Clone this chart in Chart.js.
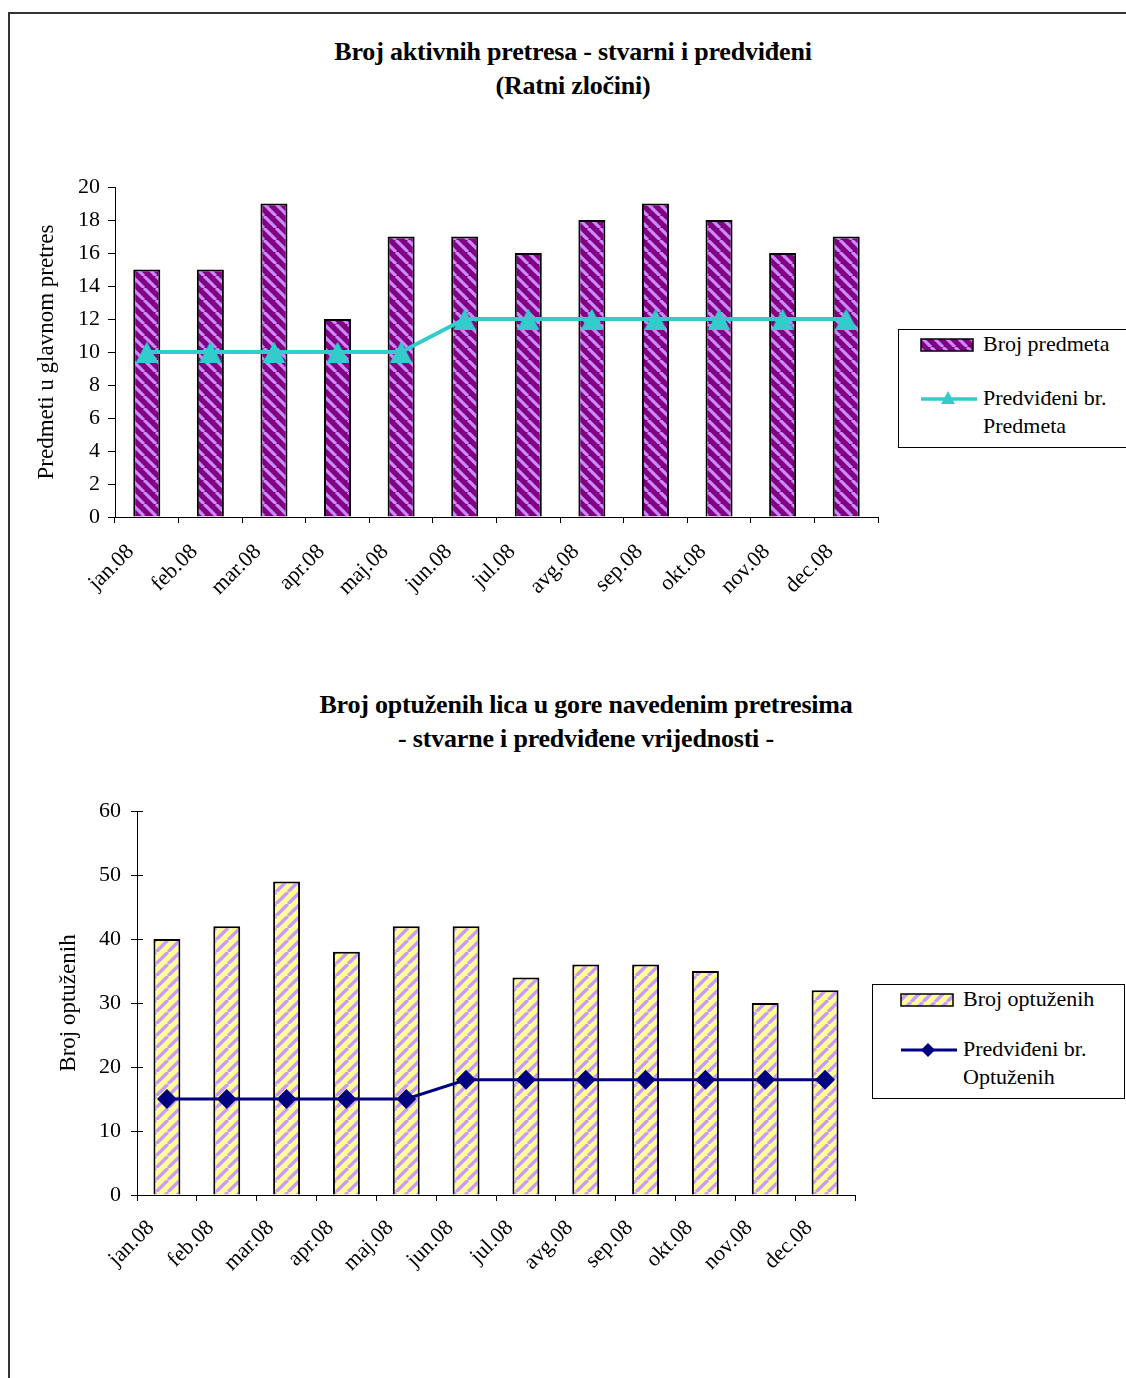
<!DOCTYPE html>
<html><head><meta charset="utf-8">
<script src="https://cdn.jsdelivr.net/npm/chart.js@4"></script>
<style>
body{margin:0;width:1126px;height:1378px;position:relative;background:#fff;overflow:hidden;font-family:"Liberation Serif","Times New Roman",serif;color:#000;}
#frame{position:absolute;left:8px;top:12px;width:1300px;height:1500px;border-left:2px solid #333;border-top:2px solid #333;}
.title{position:absolute;width:700px;text-align:center;font-weight:bold;font-size:26px;line-height:34px;letter-spacing:-0.2px;}
.legend{position:absolute;border:1px solid #000;background:#fff;}
.lt{position:absolute;font-size:22px;line-height:28px;white-space:nowrap;}
canvas.c{position:absolute;}
canvas.sw{position:absolute;}
</style></head>
<body>
<div id="frame"></div>
<div class="title" style="left:223px;top:35px;">Broj aktivnih pretresa - stvarni i predviđeni<br>(Ratni zločini)</div>
<canvas id="c1" class="c" width="900" height="617" style="left:0;top:0;"></canvas>
<div class="legend" style="left:898px;top:329px;width:300px;height:117px;">
  <canvas id="l1a" class="sw" width="60" height="20" style="left:20px;top:5px;"></canvas>
  <div class="lt" style="left:84px;top:0px;">Broj predmeta</div>
  <canvas id="l1b" class="sw" width="60" height="30" style="left:20px;top:54px;"></canvas>
  <div class="lt" style="left:84px;top:54px;">Predviđeni br.<br>Predmeta</div>
</div>
<div class="title" style="left:236px;top:688px;">Broj optuženih lica u gore navedenim pretresima<br>- stvarne i predviđene vrijednosti -</div>
<canvas id="c2" class="c" width="880" height="655" style="left:0;top:640px;"></canvas>
<div class="legend" style="left:872px;top:984px;width:251px;height:113px;">
  <canvas id="l2a" class="sw" width="60" height="20" style="left:26px;top:5px;"></canvas>
  <div class="lt" style="left:90px;top:0px;">Broj optuženih</div>
  <canvas id="l2b" class="sw" width="60" height="30" style="left:26px;top:50px;"></canvas>
  <div class="lt" style="left:90px;top:50px;">Predviđeni br.<br>Optuženih</div>
</div>
<script>
// ---- data ----
const months = ['jan.08','feb.08','mar.08','apr.08','maj.08','jun.08','jul.08','avg.08','sep.08','okt.08','nov.08','dec.08'];
const brojPredmeta = [15,15,19,12,17,17,16,18,19,18,16,17];
const predvidjeniPredmeta = [10,10,10,10,10,12,12,12,12,12,12,12];
const brojOptuzenih = [40,42,49,38,42,42,34,36,36,35,30,32];
const predvidjeniOptuzenih = [15,15,15,15,15,18,18,18,18,18,18,18];

const FONT = "'Liberation Serif','Times New Roman',serif";

function pattern(bg, fg, dir, size, lw){
  const c = document.createElement('canvas'); c.width = c.height = size;
  const x = c.getContext('2d');
  x.fillStyle = bg; x.fillRect(0,0,size,size);
  x.strokeStyle = fg; x.lineWidth = lw; x.beginPath();
  for (let k=-1;k<=1;k++){
    if (dir === '\\'){ x.moveTo(k*size,0); x.lineTo(k*size+size,size); }
    else { x.moveTo(k*size,size); x.lineTo(k*size+size,0); }
  }
  x.stroke();
  return x.createPattern(c,'repeat');
}
const pat1 = pattern('#800080','#CC88FF','\\',12,3.2);
const pat2 = pattern('#FFFF99','#CC99FF','/',12,3.4);

// centred triangle marker image
const triImg = (function(){
  const c = document.createElement('canvas'); c.width = 22; c.height = 21;
  const x = c.getContext('2d'); x.fillStyle = '#33CCCC';
  x.beginPath(); x.moveTo(11,0); x.lineTo(22,21); x.lineTo(0,21); x.closePath(); x.fill();
  return c;
})();

function swatch(id, pat){
  const x = document.getElementById(id).getContext('2d');
  x.fillStyle = pat; x.fillRect(2,4,52,12);
  x.strokeStyle = '#000'; x.lineWidth = 1.5; x.strokeRect(2,4,52,12);
}
swatch('l1a', pat1); swatch('l2a', pat2);
(function(){
  const x = document.getElementById('l1b').getContext('2d');
  x.strokeStyle = '#33CCCC'; x.lineWidth = 3.5;
  x.beginPath(); x.moveTo(2,15); x.lineTo(58,15); x.stroke();
  x.fillStyle = '#33CCCC'; x.beginPath(); x.moveTo(29,7); x.lineTo(36,20); x.lineTo(22,20); x.closePath(); x.fill();
  const y = document.getElementById('l2b').getContext('2d');
  y.strokeStyle = '#000080'; y.lineWidth = 3;
  y.beginPath(); y.moveTo(2,15); y.lineTo(58,15); y.stroke();
  y.fillStyle = '#000080'; y.beginPath(); y.moveTo(29,8); y.lineTo(36,15); y.lineTo(29,22); y.lineTo(22,15); y.closePath(); y.fill();
})();

const innerTicks = {
  id:'innerTicks',
  afterDraw(chart, args, opts){
    if (!opts.len) return;
    const s = chart.scales.y, ctx = chart.ctx;
    ctx.save(); ctx.strokeStyle = '#000'; ctx.lineWidth = 1;
    s.ticks.forEach(t=>{
      const py = Math.round(s.getPixelForValue(t.value))+0.5;
      ctx.beginPath(); ctx.moveTo(s.right, py); ctx.lineTo(s.right+opts.len, py); ctx.stroke();
    });
    ctx.restore();
  }
};

function makeChart(id, cfg){
  return new Chart(document.getElementById(id), {
    type:'bar',
    data:{labels: months, datasets:[
      {type:'line', label:cfg.lineLabel, data:cfg.lineData, borderColor:cfg.lineColor, backgroundColor:cfg.lineColor,
       borderWidth:cfg.lineWidth, pointStyle:cfg.pointStyle, pointRadius:cfg.pointRadius, pointBackgroundColor:cfg.lineColor,
       pointBorderWidth:0, tension:0, order:0},
      {type:'bar', label:cfg.barLabel, data:cfg.barData, backgroundColor:cfg.pat, borderColor:'#000', borderWidth:2,
       barPercentage:cfg.barPct, categoryPercentage:1, order:1}
    ]},
    options:{
      responsive:false, animation:false, devicePixelRatio:1,
      layout:{padding:cfg.padding},
      plugins:{legend:{display:false}, tooltip:{enabled:false}, title:{display:false}, innerTicks:{len:cfg.innerLen}},
      scales:{
        x:{
          grid:{drawOnChartArea:false, drawTicks:true, tickLength:6, color:'#000', offset:true},
          border:{display:true, color:'#000', width:1},
          ticks:{color:'#000', font:{family:FONT, size:22}, minRotation:45, maxRotation:45, autoSkip:false, padding:cfg.xPad, labelOffset:cfg.xLabelOffset},
          afterFit(s){ s.height = 100; }
        },
        y:{
          min:0, max:cfg.max,
          grid:{drawOnChartArea:false, drawTicks:true, tickLength:cfg.yTickLen, color:'#000'},
          border:{display:true, color:'#000', width:1},
          ticks:{stepSize:cfg.step, color:'#000', font:{family:FONT, size:22}, padding:cfg.yPad},
          title:{display:true, text:cfg.yTitle, color:'#000', font:{family:FONT, size:23}, padding:0},
          afterFit(s){ s.width = cfg.yWidth; }
        }
      }
    },
    plugins:[innerTicks]
  });
}

makeChart('c1', {
  lineLabel:'Predviđeni br. Predmeta', lineData:predvidjeniPredmeta, lineColor:'#33CCCC', lineWidth:4,
  pointStyle:triImg, pointRadius:11,
  barLabel:'Broj predmeta', barData:brojPredmeta, pat:pat1, barPct:0.425,
  padding:{left:33, right:22, top:187, bottom:0}, yWidth:82, max:20, step:2, yTickLen:7, yPad:8,
  yTitle:'Predmeti u glavnom pretres', xPad:16, xLabelOffset:-16, innerLen:0
});
makeChart('c2', {
  lineLabel:'Predviđeni br. Optuženih', lineData:predvidjeniOptuzenih, lineColor:'#000080', lineWidth:3,
  pointStyle:'rectRot', pointRadius:10,
  barLabel:'Broj optuženih', barData:brojOptuzenih, pat:pat2, barPct:0.45,
  padding:{left:55, right:25, top:171, bottom:0}, yWidth:82, max:60, step:10, yTickLen:6, yPad:10,
  yTitle:'Broj optuženih', xPad:14, xLabelOffset:-16, innerLen:6
});
</script>
</body></html>
